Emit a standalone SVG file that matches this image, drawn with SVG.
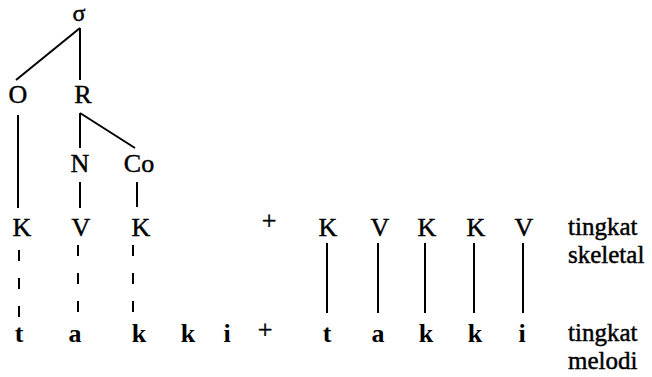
<svg xmlns="http://www.w3.org/2000/svg" width="652" height="377" viewBox="0 0 652 377">
<style>
text{font-family:"Liberation Serif","Times New Roman",serif;font-size:26px;fill:#000;stroke:#000;stroke-width:0.45;text-anchor:middle}
.lab{text-anchor:start;font-size:25px}
.b{font-weight:bold;stroke-width:0}
.ln line{stroke:#000;stroke-width:2;fill:none}
.ln .d{stroke-dasharray:11 17}
</style>
<rect width="652" height="377" fill="#fff"/>
<g class="ln" id="connectors">
<line x1="80" y1="28" x2="16" y2="80"/>
<line x1="80" y1="28" x2="80" y2="80"/>
<line x1="80" y1="113" x2="80" y2="148"/>
<line x1="80" y1="113" x2="135" y2="148"/>
<line x1="18" y1="115" x2="18" y2="208"/>
<line x1="80" y1="182" x2="80" y2="208"/>
<line x1="137" y1="182" x2="137" y2="207"/>
<line class="d" x1="19" y1="250" x2="19" y2="322"/>
<line class="d" x1="78" y1="245" x2="78" y2="316"/>
<line class="d" x1="133" y1="245" x2="133" y2="316"/>
<line x1="327" y1="243" x2="327" y2="313"/>
<line x1="378" y1="243" x2="378" y2="313"/>
<line x1="425" y1="243" x2="425" y2="313"/>
<line x1="474" y1="243" x2="474" y2="313"/>
<line x1="523" y1="243" x2="523" y2="313"/>
</g>
<g id="sigma"><text x="79" y="21" style="font-size:24px">σ</text></g>
<g id="O"><text x="18" y="103">O</text></g>
<g id="R"><text x="83" y="103">R</text></g>
<g id="N"><text x="80" y="172">N</text></g>
<g id="Co"><text x="139" y="172">Co</text></g>
<g id="skeletal1">
<text x="22" y="236">K</text>
<text x="81" y="236">V</text>
<text x="141" y="236">K</text>
</g>
<g id="plus1"><text x="269" y="229">+</text></g>
<g id="skeletal2">
<text x="328" y="236">K</text>
<text x="380" y="236">V</text>
<text x="427" y="236">K</text>
<text x="476" y="236">K</text>
<text x="524" y="236">V</text>
</g>
<g id="melodi1">
<text class="b" x="19" y="342">t</text>
<text class="b" x="75" y="342">a</text>
<text class="b" x="139" y="342">k</text>
<text class="b" x="188" y="342">k</text>
<text class="b" x="227" y="342">i</text>
</g>
<g id="plus2"><text x="265" y="338">+</text></g>
<g id="melodi2">
<text class="b" x="327" y="342">t</text>
<text class="b" x="378" y="342">a</text>
<text class="b" x="426" y="342">k</text>
<text class="b" x="475" y="342">k</text>
<text class="b" x="522" y="342">i</text>
</g>
<g id="labels">
<text class="lab" x="568" y="235">tingkat</text>
<text class="lab" x="568" y="263">skeletal</text>
<text class="lab" x="568" y="341">tingkat</text>
<text class="lab" x="568" y="369">melodi</text>
</g>
</svg>
